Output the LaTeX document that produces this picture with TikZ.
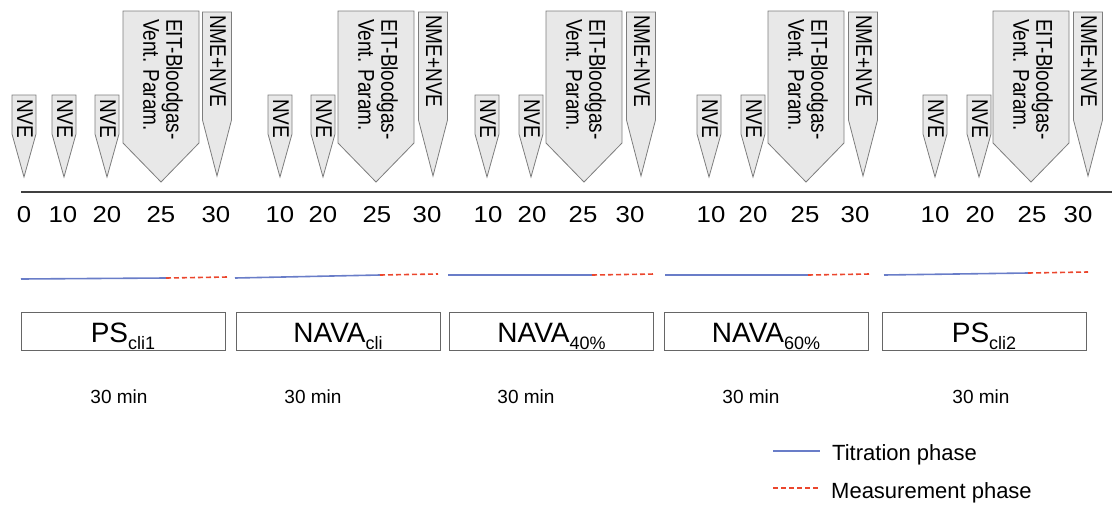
\documentclass[tikz,border=0pt]{standalone}
\usepackage{fontspec}
\setmainfont{Liberation Sans}
\definecolor{titr}{RGB}{105,125,200}
\definecolor{meas}{RGB}{235,70,45}
\definecolor{flagfill}{RGB}{232,232,232}
\definecolor{flagline}{RGB}{125,125,125}
\newcommand{\lowsub}[1]{\raisebox{-7pt}{\fontsize{18}{18}\selectfont #1}}
\tikzset{
  flag/.style={draw=flagline, fill=flagfill, line width=0.8pt, line join=miter},
  flagtext/.style={rotate=-90, yscale=1.2, anchor=west, inner sep=0, align=left, font=\fontsize{19}{19}\selectfont},
  tick/.style={anchor=base, inner sep=0, xscale=1.12, font=\fontsize{23}{23}\selectfont},
  phasebox/.style={draw=black!60, line width=1pt, minimum width=204pt, minimum height=38pt, inner sep=0, text height=26pt, text depth=4pt, font=\fontsize{28}{28}\selectfont},
  duration/.style={anchor=base, inner sep=0, font=\fontsize{19}{19}\selectfont},
  titration/.style={titr, line width=1.6pt},
  measurement/.style={meas, line width=1.6pt, dash pattern=on 5pt off 3pt}
}
\begin{document}
\begin{tikzpicture}[x=1pt, y=-1pt]
  \useasboundingbox (0,0) rectangle (1114,509);

  % flags above the time axis
  \foreach \x in {24,64,107,280,323,487,531,709,753,935,979} {
    \draw[flag] (\x-12,95) -- (\x+12,95) -- (\x+12,134) -- (\x,177) -- (\x-12,134) -- cycle;
    \node[flagtext] (nve\x) at (\x+1,99) {NVE};
  }
  \foreach \x in {161,376,584,806,1031} {
    \draw[flag] (\x-38,11) -- (\x+38,11) -- (\x+38,143) -- (\x,182) -- (\x-38,143) -- cycle;
    \node[flagtext] (eit\x) at (\x+2,19) {EIT-Bloodgas-\\Vent. Param.};
  }
  \foreach \x in {217,433,641,863,1088} {
    \draw[flag] (\x-14.5,12) -- (\x+14.5,12) -- (\x+14.5,120) -- (\x,176) -- (\x-14.5,120) -- cycle;
    \node[flagtext] (nme\x) at (\x+1,15) {NME+NVE};
  }

  % time axis
  \coordinate (axL) at (21,192);
  \coordinate (axR) at (1112,192);
  \draw[black!75, line width=1.8pt] (axL) -- (axR);
  \foreach \x/\t in {24/0,63/10,107/20,161/25,216/30,
                     280/10,323/20,377/25,427/30,
                     488/10,532/20,583/25,630/30,
                     711/10,753/20,805/25,855/30,
                     935/10,980/20,1032/25,1078/30}
    \node[tick] (t\x) at (\x,222) {\t};

  % phases
  \draw[titration] (21,279) -- (166,278);
  \draw[measurement] (166,278) -- (228,277);
  \draw[titration] (235,278) -- (380,275);
  \draw[measurement] (380,275) -- (438,274);
  \draw[titration] (448,275) -- (592,275);
  \draw[measurement] (592,275) -- (655,274);
  \draw[titration] (665,275) -- (808,275);
  \draw[measurement] (808,275) -- (870,274);
  \draw[titration] (884,275) -- (1028,273);
  \draw[measurement] (1028,273) -- (1088,272);

  \node[phasebox] (pscli1) at (123,331) {PS\lowsub{cli1}};
  \node[phasebox] (navacli) at (338,331) {NAVA\lowsub{cli}};
  \node[phasebox] (nava40) at (551.5,331) {NAVA\lowsub{40\%}};
  \node[phasebox] (nava60) at (766,331) {NAVA\lowsub{60\%}};
  \node[phasebox] (pscli2) at (984,331) {PS\lowsub{cli2}};

  \foreach \x [count=\i] in {119,313,526,751,981}
    \node[duration] (dur\i) at (\x,403) {30 min};

  % legend
  \coordinate (lgA) at (773,451);
  \coordinate (lgB) at (820,451);
  \coordinate (lgC) at (773,488);
  \coordinate (lgD) at (820,488);
  \draw[titration] (lgA) -- (lgB);
  \draw[measurement] (lgC) -- (lgD);
  \node[anchor=base west, inner sep=0, font=\fontsize{22}{22}\selectfont] (lgtitr) at (832,460) {Titration phase};
  \node[anchor=base west, inner sep=0, font=\fontsize{22}{22}\selectfont] (lgmeas) at (831,498) {Measurement phase};
\end{tikzpicture}
\end{document}
